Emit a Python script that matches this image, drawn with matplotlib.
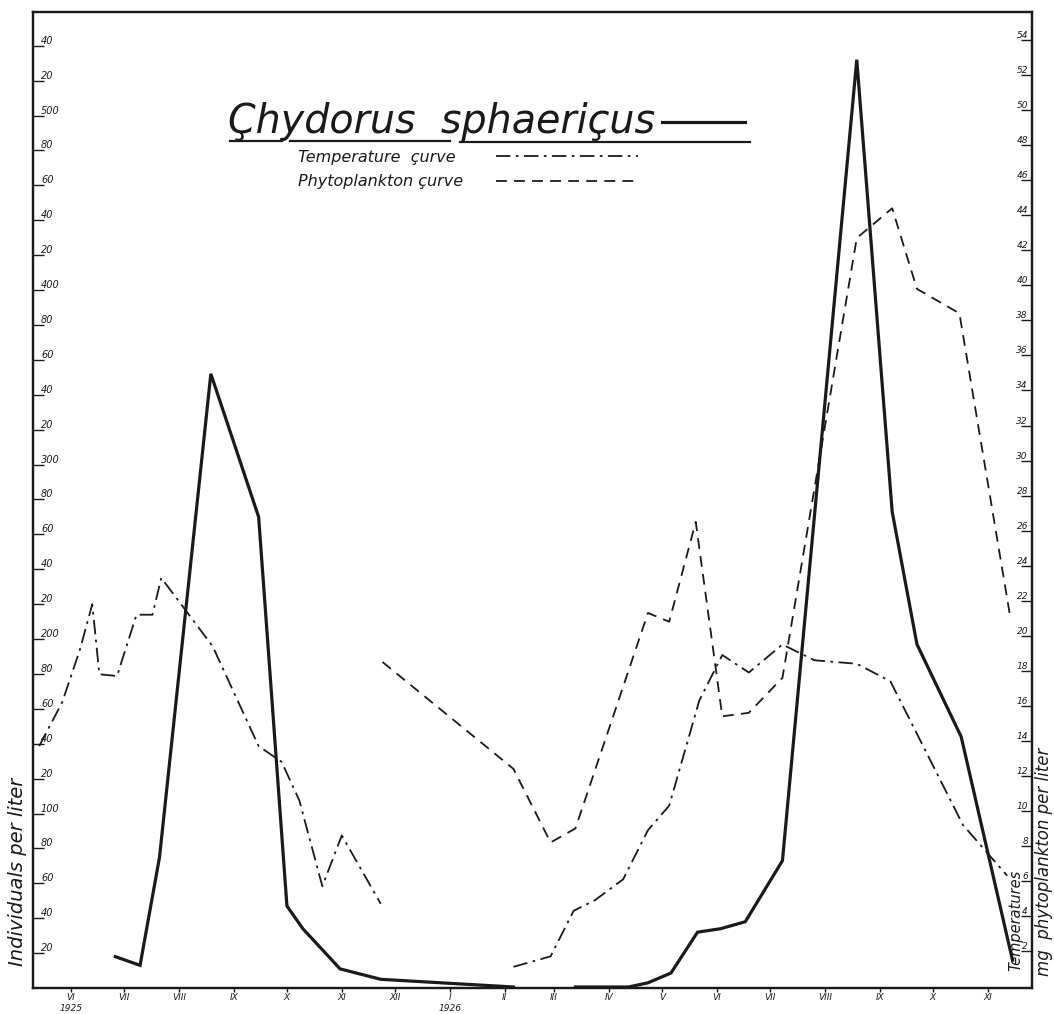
import matplotlib
matplotlib.use("Agg")
import matplotlib.pyplot as plt
import matplotlib.dates as mdates
from matplotlib.lines import Line2D
import pandas as pd

# Chydorus sphaericus, individuals per liter (left axis)
chydorus_1925_dates = ["1925-06-26", "1925-07-10", "1925-07-21", "1925-08-19", "1925-09-15",
                       "1925-10-01", "1925-10-10", "1925-10-31", "1925-11-23", "1926-02-06"]
chydorus_1925_values = [18, 13, 75, 352, 270, 47, 34, 11, 5, 0.6]

chydorus_1926_dates = ["1926-03-13", "1926-04-12", "1926-04-23", "1926-05-06", "1926-05-21",
                       "1926-06-03", "1926-06-17", "1926-07-08", "1926-08-19", "1926-09-08",
                       "1926-09-22", "1926-10-17", "1926-11-15"]
chydorus_1926_values = [0.6, 0.6, 3, 8.6, 32, 34, 38, 73, 532, 273, 197, 144, 16]

# Water temperature (right axis)
temp_1925_dates = ["1925-05-14", "1925-05-27", "1925-06-06", "1925-06-13", "1925-06-17",
                   "1925-06-27", "1925-07-08", "1925-07-17", "1925-07-22", "1925-08-20",
                   "1925-09-15", "1925-09-28", "1925-10-08", "1925-10-21", "1925-11-01",
                   "1925-11-23"]
temp_1925_values = [13.7, 16.2, 19.2, 21.8, 17.8, 17.7, 21.2, 21.2, 23.3, 19.4,
                    13.7, 12.8, 10.6, 5.7, 8.6, 4.7]

temp_1926_dates = ["1926-02-06", "1926-02-27", "1926-03-12", "1926-03-24", "1926-04-09",
                   "1926-04-23", "1926-05-05", "1926-05-22", "1926-06-04", "1926-06-19",
                   "1926-07-08", "1926-07-26", "1926-08-19", "1926-09-07", "1926-10-18",
                   "1926-11-12"]
temp_1926_values = [1.1, 1.7, 4.3, 4.9, 6.1, 8.9, 10.3, 16.3, 18.9, 17.9,
                    19.5, 18.6, 18.4, 17.4, 9.2, 6.3]

# Phytoplankton, mg per liter (right axis)
phyto_dates = ["1925-11-24", "1926-02-06", "1926-02-27", "1926-03-13", "1926-04-23",
               "1926-05-05", "1926-05-20", "1926-06-04", "1926-06-19", "1926-07-08",
               "1926-08-19", "1926-09-08", "1926-09-22", "1926-10-16", "1926-11-14"]
phyto_values = [18.5, 12.4, 8.2, 9.0, 21.3, 20.8, 26.5, 15.4, 15.6, 17.6,
                42.7, 44.4, 39.8, 38.4, 20.9]

# Axis ticks and labels
month_starts = pd.date_range("1925-06-01", "1926-11-01", freq="MS")
month_labels = ["VI", "VII", "VIII", "IX", "X", "XI", "XII", "I", "II", "III",
                "IV", "V", "VI", "VII", "VIII", "IX", "X", "XI"]
year_labels = {"1925-06-01": "1925", "1926-01-01": "1926"}
left_ticks = list(range(20, 541, 20))
right_ticks = list(range(2, 55, 2))

INK = "#1a1a1a"
HAND = dict(family="DejaVu Sans", style="italic", color=INK)

fig = plt.figure(figsize=(10.54, 10.14), dpi=100)
fig.patch.set_facecolor("white")
ax = fig.add_axes([0.0313, 0.0256, 0.9478, 0.9625])
ax2 = ax.twinx()

ax.set_xlim(pd.Timestamp("1925-05-10 12:00"), pd.Timestamp("1926-11-26"))
ax.set_ylim(0, 559.3)
ax2.set_ylim(-0.11, 55.6)

for a in (ax, ax2):
    for s in a.spines.values():
        s.set_linewidth(1.6)
        s.set_color(INK)

# Curves
ax.plot(pd.to_datetime(chydorus_1925_dates), chydorus_1925_values, color=INK, lw=2.3,
        solid_joinstyle="miter")
ax.plot(pd.to_datetime(chydorus_1926_dates), chydorus_1926_values, color=INK, lw=2.3,
        solid_joinstyle="miter")
dashdot = (0, (8, 3, 1.5, 3))
dashed = (0, (6, 4))
ax2.plot(pd.to_datetime(temp_1925_dates), temp_1925_values, color=INK, lw=1.3, ls=dashdot)
ax2.plot(pd.to_datetime(temp_1926_dates), temp_1926_values, color=INK, lw=1.3, ls=dashdot)
ax2.plot(pd.to_datetime(phyto_dates), phyto_values, color=INK, lw=1.3, ls=dashed)

# Month ticks along the bottom
ax.set_xticks(mdates.date2num(month_starts))
ax.set_xticklabels(month_labels, fontsize=6.5, **HAND)
ax.tick_params(axis="x", direction="out", length=3, width=1, pad=0.5, colors=INK)
for d, yr in year_labels.items():
    ax.annotate(yr, xy=(pd.Timestamp(d), 0), xycoords=("data", "axes fraction"),
                xytext=(0, -11.5), textcoords="offset points", ha="center", va="top",
                fontsize=6.5, **HAND)

# Left scale: ticks inside, labels written above each tick
ax.set_yticks(left_ticks)
ax.tick_params(axis="y", direction="in", length=8, width=1, labelleft=False, colors=INK)
for v in left_ticks:
    lab = str(v) if v % 100 == 0 else f"{v % 100:02d}"
    ax.text(0.008, v, lab, transform=ax.get_yaxis_transform(), ha="left", va="bottom",
            fontsize=7, **HAND)

# Right scale
ax2.set_yticks(right_ticks)
ax2.tick_params(axis="y", direction="in", length=8, width=1, labelright=False, colors=INK)
for v in right_ticks:
    ax2.text(0.996, v, str(v), transform=ax2.get_yaxis_transform(), ha="right", va="bottom",
             fontsize=6.5, **HAND)

# Axis titles
fig.text(18 / 1054, 1 - 872 / 1014, "Individuals per liter", rotation=90, ha="center",
         va="center", fontsize=14, **HAND)
fig.text(1016 / 1054, 1 - 920 / 1014, "Temperatures", rotation=90, ha="center",
         va="center", fontsize=10.5, **HAND)
fig.text(1044 / 1054, 1 - 862 / 1014, "mg  phytoplankton per liter", rotation=90,
         ha="center", va="center", fontsize=12, **HAND)

# Title block with line key
def fx(px):
    return px / 1054

def fy(py):
    return 1 - py / 1014

fig.text(fx(228), fy(133), "Çhydorus  sphaeriçus", fontsize=28.5, ha="left", va="baseline",
         **HAND)
for x0, x1, yy in [(230, 282, 141), (290, 450, 141), (460, 750, 142)]:
    fig.add_artist(Line2D([fx(x0), fx(x1)], [fy(yy), fy(yy)], color=INK, lw=1.6))
fig.add_artist(Line2D([fx(662), fx(745)], [fy(122), fy(122)], color=INK, lw=2.3))

fig.text(fx(298), fy(162), "Temperature  çurve", fontsize=11.5, ha="left", va="baseline",
         **HAND)
fig.add_artist(Line2D([fx(496), fx(638)], [fy(156), fy(156)], color=INK, lw=1.3,
                      ls=dashdot))
fig.text(fx(298), fy(186), "Phytoplankton çurve", fontsize=11.5, ha="left", va="baseline",
         **HAND)
fig.add_artist(Line2D([fx(496), fx(638)], [fy(181), fy(181)], color=INK, lw=1.3,
                      ls=dashed))

fig.savefig("out.png", dpi=100, facecolor="white")
